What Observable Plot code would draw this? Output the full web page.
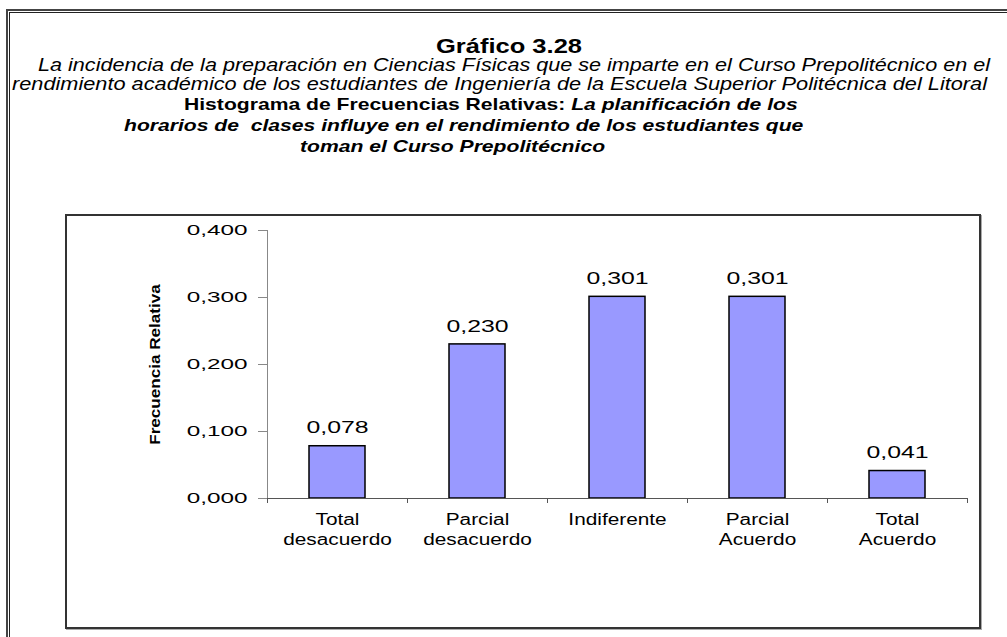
<!DOCTYPE html>
<html><head><meta charset="utf-8">
<script src="https://cdn.jsdelivr.net/npm/d3@7"></script>
<script src="https://cdn.jsdelivr.net/npm/@observablehq/plot@0.6"></script>
<style>
html,body{margin:0;padding:0;background:#fff;width:1007px;height:637px;overflow:hidden;position:relative;font-family:"Liberation Sans",Arial,sans-serif}
#outerA{position:absolute;left:6px;top:9px;width:1100px;height:700px;border-left:2px solid #444;border-top:2px solid #444;}
#outerB{position:absolute;left:9px;top:12px;width:1100px;height:700px;border-left:1px solid #222;border-top:1px solid #222;}
#box{position:absolute;left:65px;top:214px;width:916px;height:415px;box-sizing:border-box;border:2px solid #333;box-shadow:1px 1px 0 #aaa;}
#header{position:absolute;left:0;top:0;}
#chart{position:absolute;left:0;top:0;}
#chart svg{overflow:visible}
text{white-space:pre}
</style>
</head><body>
<div id="outerA"></div><div id="outerB"></div><div id="box"></div>
<svg id="header" width="1007" height="637" xmlns="http://www.w3.org/2000/svg"></svg>
<div id="chart"></div>
<script>
// ---- data ----
const categories = ["Total desacuerdo","Parcial desacuerdo","Indiferente","Parcial Acuerdo","Total Acuerdo"];
const labelLine1 = ["Total","Parcial","Indiferente","Parcial","Total"];
const labelLine2 = ["desacuerdo","desacuerdo","","Acuerdo","Acuerdo"];
const values = [0.078, 0.230, 0.301, 0.301, 0.041];
const yTicks = [0, 0.1, 0.2, 0.3, 0.4];
const yTitle = "Frecuencia Relativa";
const title = "Gráfico 3.28";
const subtitle1 = "La incidencia de la preparación en Ciencias Físicas que se imparte en el Curso Prepolitécnico en el";
const subtitle2 = "rendimiento académico de los estudiantes de Ingeniería de la Escuela Superior Politécnica del Litoral";
const heading1a = "Histograma de Frecuencias Relativas: ";
const heading1b = "La planificación de los";
const heading2 = "horarios de  clases influye en el rendimiento de los estudiantes que";
const heading3 = "toman el Curso Prepolitécnico";

const data = categories.map((c,i)=>({cat:c, l1:labelLine1[i], l2:labelLine2[i], v:values[i]}));

// ---- header ----
const NS = "http://www.w3.org/2000/svg";
const header = document.getElementById("header");
function line(runs, x0, y, size, opts){
  const els = runs.map(r=>{
    const t = document.createElementNS(NS,"text");
    t.textContent = r.text;
    t.setAttribute("y", y);
    t.setAttribute("font-size", size);
    t.setAttribute("font-family", "Liberation Sans, Arial, sans-serif");
    if (r.bold) t.setAttribute("font-weight","bold");
    if (r.italic) t.setAttribute("font-style","italic");
    t.setAttribute("fill","#000");
    header.appendChild(t);
    return t;
  });
  const nat = els.map(t=>t.getComputedTextLength());
  const total = nat.reduce((a,b)=>a+b,0);
  const k = opts.x1 != null ? (opts.x1-x0)/total : opts.k;
  let x = x0;
  els.forEach((t,i)=>{
    t.setAttribute("x", x);
    t.setAttribute("textLength", nat[i]*k);
    t.setAttribute("lengthAdjust","spacingAndGlyphs");
    x += nat[i]*k;
  });
  return k;
}
line([{text:title,bold:true}], 436, 53, 21, {x1:582});
line([{text:subtitle1,italic:true}], 38, 71, 17.5, {x1:990});
const kSub = line([{text:subtitle2,italic:true}], 12, 90, 17.5, {x1:987});
line([{text:heading1a,bold:true},{text:heading1b,bold:true,italic:true}], 184, 110, 17, {k:kSub});
line([{text:heading2,bold:true,italic:true}], 124, 131, 17, {k:kSub});
line([{text:heading3,bold:true,italic:true}], 300, 152, 17, {k:kSub});

// ---- chart ----
const W=1007, H=637, mL=267, mR=40, mT=230, mB=139;
const step = (W-mL-mR)/categories.length;
const loc = d3.formatLocale({decimal:",", thousands:".", grouping:[3], currency:["",""]});
const fmt = loc.format(".3f");

const chart = Plot.plot({
  width:W, height:H, marginLeft:mL, marginRight:mR, marginTop:mT, marginBottom:mB,
  style:{background:"none", fontFamily:"Liberation Sans, Arial, sans-serif", fontSize:"16px", color:"#000", overflow:"visible"},
  x:{type:"band", domain:categories, paddingInner:0.6, paddingOuter:0.3, axis:null},
  y:{domain:[0,0.4], axis:null},
  marks:[
    Plot.barY(data,{x:"cat", y:"v", fill:"#9999FF", stroke:"#000", strokeWidth:1.5}),
    Plot.frame({anchor:"left", stroke:"#888"}),
    Plot.ruleY([0], {stroke:"#555"}),
    Plot.axisY(yTicks, {tickSize:9, tickPadding:11, tickFormat:fmt, stroke:"#888", fill:"#000", fontSize:15, label:null}),
    Plot.axisX(categories, {tickSize:5, tickFormat:()=>"", dx:-step/2, stroke:"#555", label:null}),
    Plot.axisX([categories[categories.length-1]], {tickSize:5, tickFormat:()=>"", dx:step/2, stroke:"#555", label:null}),
    Plot.text(data, {x:"cat", y:"v", text:d=>fmt(d.v), dy:-18, lineAnchor:"middle", fontSize:16, fill:"#000"}),
    Plot.text(data, {x:"cat", text:"l1", frameAnchor:"bottom", dy:21, lineAnchor:"middle", fontSize:16, fill:"#000"}),
    Plot.text(data, {x:"cat", text:"l2", frameAnchor:"bottom", dy:41, lineAnchor:"middle", fontSize:16, fill:"#000"}),
    Plot.text([yTitle], {text:d=>d, frameAnchor:"left", textAnchor:"middle", rotate:-90, dx:-112, fontSize:14, fontWeight:"bold", fill:"#000"})
  ]
});
document.getElementById("chart").appendChild(chart);

function stretchEls(els, f){
  els.forEach(t=>{
    const L = t.getComputedTextLength();
    if (L>0){ t.setAttribute("textLength", L*f); t.setAttribute("lengthAdjust","spacingAndGlyphs"); }
  });
}
stretchEls(chart.querySelectorAll('g[aria-label="y-axis tick label"] text'), 1.62);
const textGroups = chart.querySelectorAll('g[aria-label="text"]');
const factors = [1.55, 1.3, 1.3, 1.22];
textGroups.forEach((g,i)=>stretchEls(g.querySelectorAll("text"), factors[i] || 1));
</script>
</body></html>
